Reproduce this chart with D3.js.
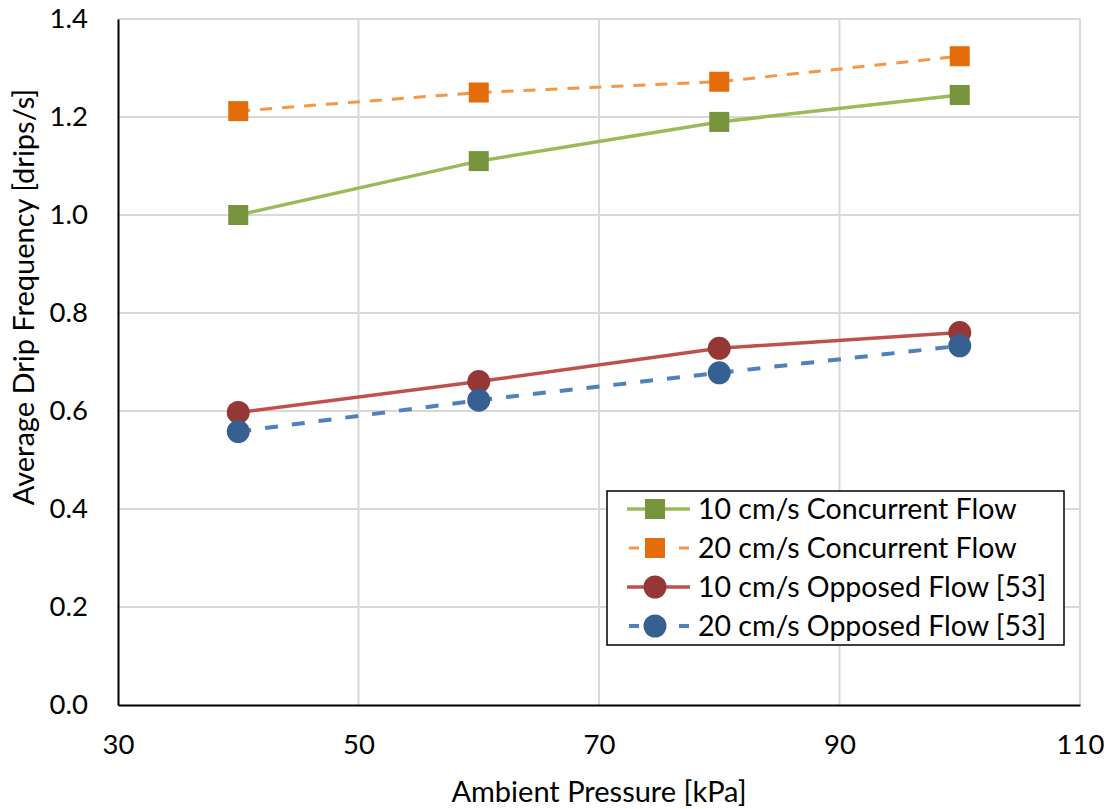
<!DOCTYPE html>
<html>
<head>
<meta charset="utf-8">
<script src="https://cdn.jsdelivr.net/npm/d3@7"></script>
<style>
  html, body { margin: 0; padding: 0; background: #fff; }
  svg text { font-family: Lato, "Open Sans", sans-serif; fill: #000; }
</style>
</head>
<body>
<svg id="chart"></svg>
<script>
(function() {

    // Data.
    const pressures = [40, 60, 80, 100];
    const concurrent10 = [1.0, 1.11, 1.19, 1.245];
    const concurrent20 = [1.212, 1.25, 1.272, 1.324];
    const opposed10 = [0.597, 0.66, 0.728, 0.76];
    const opposed20 = [0.558, 0.622, 0.678, 0.733];

    const xTicks = [30, 50, 70, 90, 110];
    const yTicks = [0, 0.2, 0.4, 0.6, 0.8, 1.0, 1.2, 1.4];

    const seriesNames = [
        '10 cm/s Concurrent Flow',
        '20 cm/s Concurrent Flow',
        '10 cm/s Opposed Flow [53]',
        '20 cm/s Opposed Flow [53]'
    ];

    const series = [
        {name: seriesNames[0], values: concurrent10, line: '#9BBB59', marker: '#77933C', shape: 'square', dash: null, width: 3.5},
        {name: seriesNames[1], values: concurrent20, line: '#F79646', marker: '#E46C0A', shape: 'square', dash: '12,10', width: 3},
        {name: seriesNames[2], values: opposed10, line: '#C0504D', marker: '#953735', shape: 'circle', dash: null, width: 3.5},
        {name: seriesNames[3], values: opposed20, line: '#4F81BD', marker: '#376092', shape: 'circle', dash: '13,14', width: 4}
    ];

    const w = 1112;
    const h = 809;
    const margin = {left: 118, right: 32, top: 19, bottom: 104};

    const scaleX = d3.scaleLinear()
        .domain([30, 110])
        .range([margin.left, w - margin.right]);

    const scaleY = d3.scaleLinear()
        .domain([0, 1.4])
        .range([h - margin.bottom, margin.top]);

    const svg = d3.select('#chart')
        .attr('width', w)
        .attr('height', h);

    // Gridlines
    const grid = svg.append('g').attr('class', 'grid');
    grid.selectAll('line.hy')
        .data(yTicks.slice(1))
        .enter().append('line')
        .attr('x1', scaleX(30)).attr('x2', scaleX(110))
        .attr('y1', d => scaleY(d)).attr('y2', d => scaleY(d))
        .attr('stroke', '#D9D9D9').attr('stroke-width', 2);
    grid.selectAll('line.vx')
        .data(xTicks.slice(1))
        .enter().append('line')
        .attr('y1', scaleY(0)).attr('y2', scaleY(1.4))
        .attr('x1', d => scaleX(d)).attr('x2', d => scaleX(d))
        .attr('stroke', '#D9D9D9').attr('stroke-width', 2);

    // Axes
    const xAxis = d3.axisBottom(scaleX).tickValues(xTicks).tickSize(0).tickPadding(29);
    const yAxis = d3.axisLeft(scaleY).tickValues(yTicks).tickSize(0).tickPadding(30)
        .tickFormat(d3.format('.1f'));

    const gx = svg.append('g')
        .attr('id', 'x-axis')
        .attr('transform', `translate(0, ${scaleY(0)})`)
        .call(xAxis);
    gx.select('.domain').attr('stroke', '#000').attr('stroke-width', 2);
    gx.selectAll('text').attr('font-size', 27.5).attr('font-family', 'Lato, sans-serif').attr('fill', '#000');

    const gy = svg.append('g')
        .attr('id', 'y-axis')
        .attr('transform', `translate(${scaleX(30)}, 0)`)
        .call(yAxis);
    gy.select('.domain').attr('stroke', '#000').attr('stroke-width', 2);
    gy.selectAll('text').attr('font-size', 27.5).attr('font-family', 'Lato, sans-serif').attr('fill', '#000');

    // Axis titles
    svg.append('text')
        .attr('x', (scaleX(30) + scaleX(110)) / 2)
        .attr('y', 802)
        .attr('text-anchor', 'middle')
        .attr('font-size', 29)
        .text('Ambient Pressure [kPa]');

    svg.append('text')
        .attr('transform', 'translate(34, 297) rotate(-90)')
        .attr('text-anchor', 'middle')
        .attr('font-size', 29)
        .text('Average Drip Frequency [drips/s]');

    // Lines and markers
    const line = d3.line()
        .x((d, i) => scaleX(pressures[i]))
        .y(d => scaleY(d));

    const drawMarker = (g, s, x, y) => {
        if (s.shape === 'square') {
            g.append('rect')
                .attr('x', x - 10).attr('y', y - 10)
                .attr('width', 20).attr('height', 20)
                .attr('fill', s.marker);
        } else {
            g.append('circle')
                .attr('cx', x).attr('cy', y).attr('r', 11.5)
                .attr('fill', s.marker);
        }
    };

    series.forEach(s => {
        const g = svg.append('g');
        g.append('path')
            .datum(s.values)
            .attr('d', line)
            .attr('fill', 'none')
            .attr('stroke', s.line)
            .attr('stroke-width', s.width)
            .attr('stroke-dasharray', s.dash);
        s.values.forEach((v, i) => drawMarker(g, s, scaleX(pressures[i]), scaleY(v)));
    });

    // Legend
    const legend = svg.append('g').attr('transform', 'translate(607, 491)');
    legend.append('rect')
        .attr('width', 457).attr('height', 154)
        .attr('fill', '#fff')
        .attr('stroke', '#000').attr('stroke-width', 1.5);

    series.forEach((s, i) => {
        const cy = 18 + i * 39;
        const item = legend.append('g');
        item.append('line')
            .attr('x1', 20).attr('x2', 83)
            .attr('y1', cy).attr('y2', cy)
            .attr('stroke', s.line)
            .attr('stroke-width', s.width)
            .attr('stroke-dasharray', s.dash ? '10,15' : null)
            .attr('stroke-dashoffset', s.dash ? -2 : null);
        drawMarker(item, s, 48, cy);
        item.append('text')
            .attr('x', 91).attr('y', cy + 10)
            .attr('font-size', 28.5)
            .text(s.name);
    });

})();
</script>
</body>
</html>
